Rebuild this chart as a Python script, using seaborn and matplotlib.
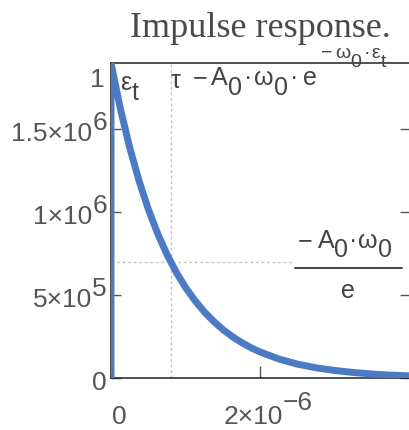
import numpy as np
import matplotlib
matplotlib.use("Agg")
import matplotlib.pyplot as plt
import matplotlib.transforms as mtransforms
from matplotlib.lines import Line2D
import seaborn as sns

# Impulse response h(t) sampled along the trace (t in microseconds, h in units of 1e6)
t_us = [0, 0, 0.125, 0.25, 0.375, 0.5, 0.625, 0.75, 0.875, 1.0, 1.125, 1.25,
        1.375, 1.5, 1.625, 1.75, 1.875, 2.0, 2.25, 2.5, 2.75, 3.0, 3.25,
        3.5, 3.75, 4.0]
h_meg = [0, 1.900, 1.625, 1.390, 1.189, 1.017, 0.870, 0.744, 0.636, 0.544,
         0.466, 0.398, 0.341, 0.291, 0.249, 0.213, 0.182, 0.156, 0.114,
         0.083, 0.061, 0.045, 0.033, 0.024, 0.017, 0.013]

# Axis ticks
y_ticks = [0, 5e5, 1e6, 1.5e6]
x_ticks = [0, 2e-6, 4e-6]
x_tick_labels = [0, 2e-6]

# Markers: time constant and the peak / e level
tau = 0.8e-6
peak = 1.9e6
level = peak / np.e

x_max = 4.0e-6
y_max = 1.9e6

BLUE = "#4a7bc9"
INK = "#444444"
TICK_INK = "#555555"
MARK = "#c4c4c4"

sns.set_theme(style="white")
plt.rcParams["font.family"] = ["Liberation Sans", "DejaVu Sans"]

fig = plt.figure(figsize=(4.1, 4.3), dpi=100)
ax = fig.add_axes([111 / 410, 52 / 430, 299 / 410, 315 / 430])

t = np.array(t_us) * 1e-6
h = np.array(h_meg) * 1e6
sns.lineplot(x=t, y=h, sort=False, estimator=None, color=BLUE,
             linewidth=5, ax=ax)
trace = ax.lines[-1]
trace.set_zorder(3)
trace.set_solid_capstyle("butt")
trace.set_solid_joinstyle("round")

ax.set_xlim(0, x_max)
ax.set_ylim(0, y_max)

for side in ("left", "top", "bottom"):
    ax.spines[side].set_color("#222222")
    ax.spines[side].set_linewidth(1.1)
ax.spines["right"].set_color("#bbbbbb")
ax.spines["right"].set_linewidth(1.0)

ax.set_xticks(x_ticks)
ax.set_yticks(y_ticks)
ax.tick_params(axis="y", direction="in", length=7, width=1, color=TICK_INK,
               left=True, right=True, labelleft=False, labelright=False)
ax.tick_params(axis="x", direction="in", length=8.5, width=1, color=TICK_INK,
               bottom=True, top=False, labelbottom=False, labeltop=False)
ax.set_xlabel("")
ax.set_ylabel("")

# Marker lines
ax.axvline(tau, color=MARK, linestyle=(0, (2, 2)), linewidth=1, zorder=1)
ax.axhline(level, xmax=0.612, color=MARK, linestyle=(0, (2, 2)),
           linewidth=1, zorder=1)

renderer = fig.canvas.get_renderer()


def rich(xy, coords, runs, ha="left", dx=0, dy=0, color=INK):
    """Lay out text runs side by side; each run is (text, rise_px, size[, gap_px])."""
    texts, x = [], 0.0
    for run in runs:
        s, rise, size = run[:3]
        gap = run[3] if len(run) > 3 else 0
        x += gap
        txt = ax.annotate(s, xy=xy, xycoords=coords, xytext=(x, rise),
                          textcoords="offset pixels", fontsize=size,
                          color=color, ha="left", va="baseline",
                          annotation_clip=False)
        x += txt.get_window_extent(renderer).width
        texts.append(txt)
    shift = {"left": 0.0, "center": -x / 2, "right": -x}[ha] + dx
    for txt in texts:
        ox, oy = txt.xyann
        txt.xyann = (ox + shift, oy + dy)
    return x


def sci_parts(v):
    if v == 0:
        return "0", None
    e = int(np.floor(np.log10(v) + 1e-9))
    m = v / 10 ** e
    return f"{m:g}×10", str(e).replace("-", "−")


# y tick labels
for v in y_ticks:
    base, ex = sci_parts(v)
    runs = [(base, -12, 19)]
    if ex:
        runs.append((ex, -1, 19))
    rich((0, v), ax.get_yaxis_transform(), runs, ha="right", dx=-4,
         color=TICK_INK)

# x tick labels
for v in x_tick_labels:
    base, ex = sci_parts(v)
    runs = [(base, -46, 19)]
    if ex:
        runs.append((ex, -32, 19))
    rich((v, 0), ax.get_xaxis_transform(), runs, ha="center", dx=8,
         color=TICK_INK)

# Marker labels along the top edge
rich((0, 1), "axes fraction", [("1", 0, 19)], ha="right", dx=-6, dy=-24,
     color=TICK_INK)
rich((0, 1), "axes fraction", [("ε", 0, 18), ("t", -10, 18)], dx=9, dy=-27)
rich((tau, 1), ax.get_xaxis_transform(), [("τ", 0, 18)], dx=0, dy=-25)
rich((tau, 1), ax.get_xaxis_transform(),
     [("−", 0, 18), ("A", 0, 18, 4), ("0", -10, 18), ("·", 0, 18, 2),
      ("ω", 0, 18, 2), ("0", -10, 18), ("·", 0, 18, 2), ("e", 0, 18, 5),
      ("−", 27, 14, 4), ("ω", 27, 14, 3), ("0", 18, 14), ("·", 27, 14, 2),
      ("ε", 27, 14, 2), ("t", 18, 14)],
     dx=22, dy=-22)

# Fraction label for the peak / e level
rich((0.625, level), ax.get_yaxis_transform(),
     [("−", 0, 18), ("A", 0, 18, 5), ("0", -9, 18), ("·", 0, 18, 1),
      ("ω", 0, 18, 1), ("0", -9, 18)], dy=14)
bar_tf = ax.get_yaxis_transform() + mtransforms.ScaledTranslation(
    0, -6 / 100, fig.dpi_scale_trans)
ax.add_line(Line2D([0.615, 0.973], [level, level], transform=bar_tf,
                   color=INK, linewidth=1.4, clip_on=False))
rich((0.794, level), ax.get_yaxis_transform(), [("e", 0, 18)], ha="center",
     dy=-36)

ax.set_title("Impulse response.", family=["Liberation Serif", "DejaVu Serif"],
             fontsize=26, color="#4a4a4a", pad=18.7, y=1.0)

fig.savefig("out.png", dpi=100)
